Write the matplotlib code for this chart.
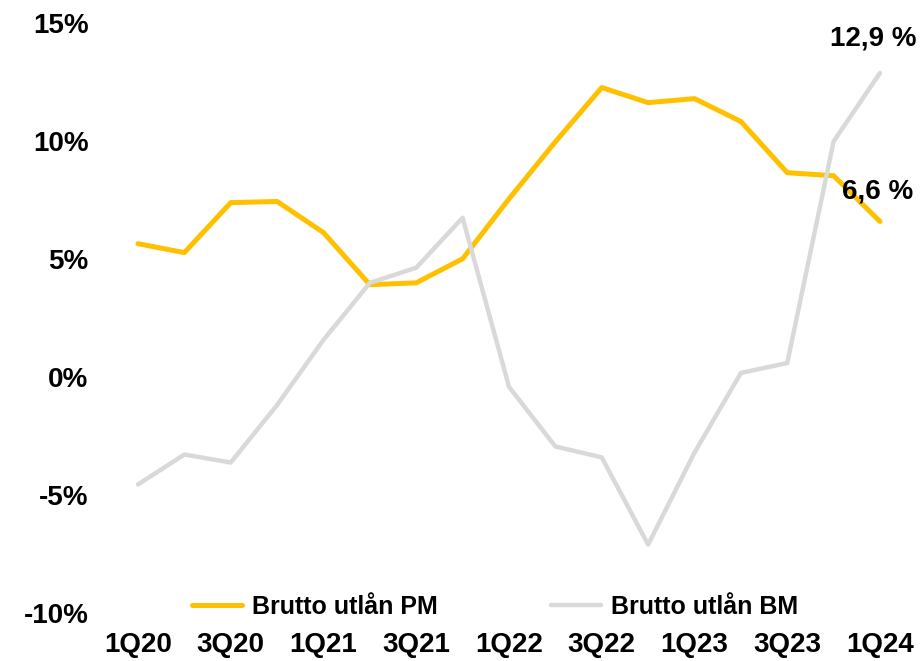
import matplotlib
matplotlib.use("Agg")
import matplotlib.pyplot as plt
from matplotlib.ticker import FuncFormatter

quarters = ["1Q20", "2Q20", "3Q20", "4Q20", "1Q21", "2Q21", "3Q21", "4Q21",
            "1Q22", "2Q22", "3Q22", "4Q22", "1Q23", "2Q23", "3Q23", "4Q23", "1Q24"]
pm_values = [5.66, 5.28, 7.40, 7.45, 6.13, 3.92, 4.00, 5.02,
             7.56, 9.98, 12.28, 11.64, 11.81, 10.84, 8.67, 8.54, 6.6]
bm_values = [-4.55, -3.28, -3.62, -1.18, 1.58, 4.00, 4.64, 6.76,
             -0.41, -2.94, -3.40, -7.10, -3.20, 0.18, 0.60, 10.00, 12.9]
pm_label = "Brutto utlån PM"
bm_label = "Brutto utlån BM"
y_ticks = [-10, -5, 0, 5, 10, 15]

plt.rcParams['font.family'] = ['Liberation Sans', 'DejaVu Sans']
plt.rcParams['font.weight'] = 'bold'

fig = plt.figure(figsize=(9.21, 6.61), dpi=100)
ax = fig.add_axes([114.8 / 921, 1 - 613 / 661, 788.4 / 921, (613 - 23.4) / 661])

x = list(range(len(quarters)))
ax.plot(x, pm_values, color="#FFC000", lw=3.6, label=pm_label, solid_capstyle='round', zorder=2)
ax.plot(x, bm_values, color="#D9D9D9", lw=3.2, label=bm_label, solid_capstyle='round', zorder=3)

ax.set_xlim(-0.5, len(quarters) - 0.5)
ax.set_ylim(-10, 15)
ax.set_yticks(y_ticks)
ax.yaxis.set_major_formatter(FuncFormatter(lambda v, p: f"{int(v)}%"))
ax.set_xticks(x[::2])
ax.set_xticklabels(quarters[::2])
ax.tick_params(axis='both', length=0, labelsize=20)
ax.tick_params(axis='x', pad=13.5)
ax.tick_params(axis='y', pad=19)
for lbl in ax.get_xticklabels() + ax.get_yticklabels():
    lbl.set_fontweight('bold')
for s in ax.spines.values():
    s.set_visible(False)

ax.annotate(f"{bm_values[-1]:.1f} %".replace('.', ','), xy=(x[-1], bm_values[-1]),
            xytext=(-5, 25), textcoords='offset points', ha='center', va='center',
            fontsize=20, fontweight='bold', zorder=5)
ax.annotate(f"{pm_values[-1]:.1f} %".replace('.', ','), xy=(x[-1], pm_values[-1]),
            xytext=(-2, 21.6), textcoords='offset points', ha='center', va='center',
            fontsize=20, fontweight='bold', zorder=5)

leg = fig.legend(loc='center', bbox_to_anchor=(495 / 921, 1 - 607 / 661), ncol=2,
                 frameon=False, handlelength=2.0, handletextpad=0.4, columnspacing=4.5,
                 prop={'size': 18, 'weight': 'bold'})

fig.savefig("out.png", dpi=100)
